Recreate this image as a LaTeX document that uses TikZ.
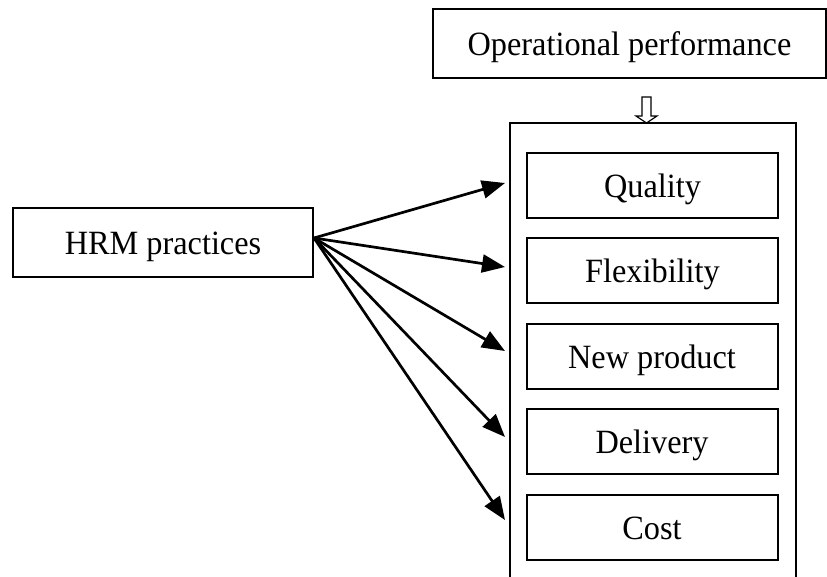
\documentclass[tikz,border=0pt]{standalone}
\usepackage{fontspec}
\setmainfont{Liberation Serif}[FakeStretch=0.95]
\usetikzlibrary{arrows.meta}
\begin{document}
\begin{tikzpicture}[x=1pt,y=-1pt,
  label font/.style={font=\fontsize{34}{40}\selectfont},
  box/.style={draw,line width=2pt,inner sep=0pt,text height=24pt,text depth=0pt,label font},
  measure/.style={box,minimum width=251pt,minimum height=65pt},
  link/.style={line width=2.7pt,-{Triangle[length=23pt,width=18pt]}}]
\useasboundingbox (0,0) rectangle (827,577);

% outer frame holding the performance measures (runs off the bottom edge)
\node[draw,line width=1.8pt,minimum width=286pt,minimum height=477pt,inner sep=0pt]
  (frame) at (653,361.5) {};

\node[box,minimum width=393pt,minimum height=69pt] (op) at (629.5,43.5) {Operational performance};
\node[box,minimum width=300pt,minimum height=69pt] (hrm) at (163,242.5) {HRM practices};

\node[measure] (qual) at (652.5,185.5) {Quality};
\node[measure] (flex) at (652.5,270.5) {Flexibility};
\node[measure] (newp) at (652,356.5)  {New product};
\node[measure] (deli) at (652,441.5)  {Delivery};
\node[measure] (cost) at (652,527)    {Cost};

% small hollow arrow pointing down onto the frame
\coordinate (dn) at (646.5,123);
\draw[line width=1.2pt,fill=white]
  (dn) ++(-4.5,-26) -- ++(9,0) -- ++(0,19) -- ++(6,0) -- (dn)
  -- ++(-10.5,-7) -- ++(6,0) -- cycle;

% fan of arrows from HRM practices to the measures
\coordinate (src) at (314,238);
\coordinate (t1) at (505,183);
\coordinate (t2) at (505,267);
\coordinate (t3) at (505,351);
\coordinate (t4) at (505,437);
\coordinate (t5) at (505,520);
\foreach \t in {t1,t2,t3,t4,t5}
  \draw[link] (src) -- (\t);
\end{tikzpicture}
\end{document}
